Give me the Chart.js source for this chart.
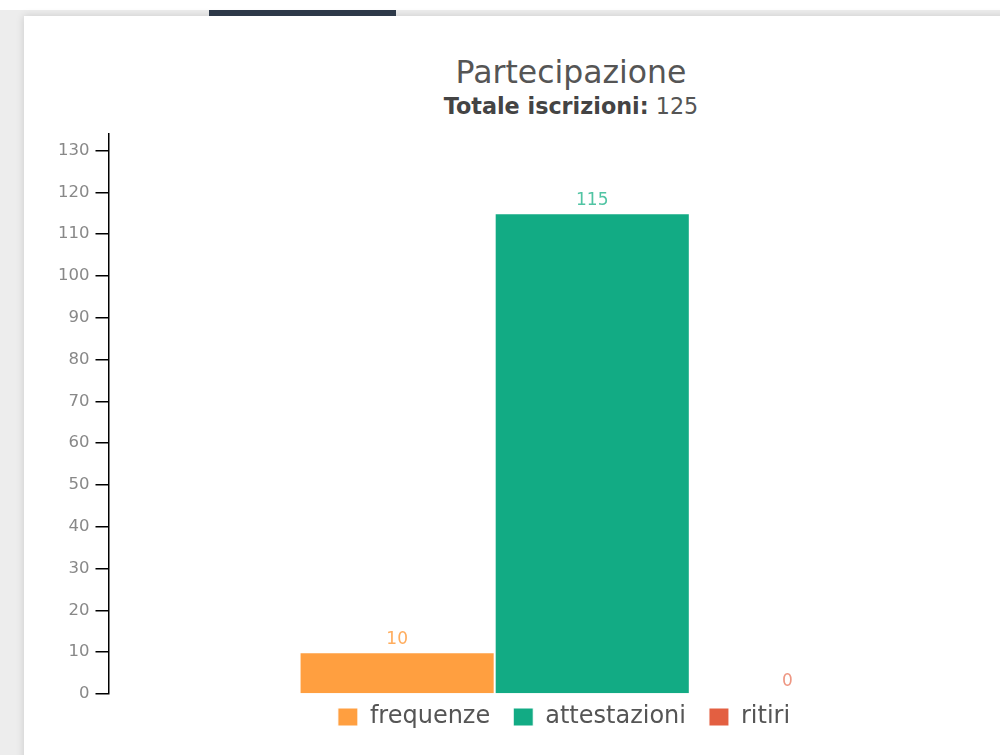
<!DOCTYPE html>
<html>
<head>
<meta charset="utf-8">
<script src="https://cdn.jsdelivr.net/npm/chart.js@4/dist/chart.umd.min.js"></script>
<style>
  body { margin: 0; background: #fff; overflow: hidden; font-family: "DejaVu Sans", sans-serif; }
  .bg { position: absolute; top: 10px; left: 0; width: 1000px; height: 745px; background: #ededed; }
  .card { position: absolute; top: 16px; left: 24px; width: 1200px; height: 800px; background: #fff;
          box-shadow: 0 0 8px rgba(0,0,0,0.15); }
  .tab { position: absolute; top: 10px; left: 209px; width: 187px; height: 6px; background: #2d3949; }
  .titolo { position: absolute; left: 42px; width: 1058px; text-align: center; }
  #t1 { top: 57px; font-size: 31.5px; line-height: 31.5px; color: #555; }
  #t2 { top: 95px; font-size: 22.3px; line-height: 22.3px; color: #555; }
  #t2 b { color: #444; }
  #wrap { position: absolute; left: 42px; top: 118px; width: 1054px; height: 633px; }
</style>
</head>
<body>
<div class="bg"></div>
<div class="card"></div>
<div class="tab"></div>
<div class="titolo" id="t1">Partecipazione</div>
<div class="titolo" id="t2"><b>Totale iscrizioni:</b> 125</div>
<div id="wrap"><canvas id="myChart"></canvas></div>
<script>
// dati del grafico
var categorie = ['Partecipazione'];
var serie = ['frequenze', 'attestazioni', 'ritiri'];
var valori = [10, 115, 0];
var tickY = [0, 10, 20, 30, 40, 50, 60, 70, 80, 90, 100, 110, 120, 130];

var coloriBarre = ['#ff9f40', '#12ab84', '#e35f41'];
var coloriEtichette = ['#ffad5e', '#50c4a3', '#ee9783'];

// etichette dei valori sopra le barre
var etichetteValori = {
    id: 'etichetteValori',
    afterDatasetsDraw: function(chart) {
        var ctx = chart.ctx;
        ctx.save();
        ctx.font = '17px "DejaVu Sans"';
        ctx.textAlign = 'center';
        ctx.textBaseline = 'bottom';
        chart.data.datasets.forEach(function(ds, i) {
            var meta = chart.getDatasetMeta(i);
            meta.data.forEach(function(bar, j) {
                ctx.fillStyle = coloriEtichette[i];
                ctx.fillText(ds.data[j], bar.x, bar.y - 4);
            });
        });
        ctx.restore();
    }
};

// avvicina la legenda all'asse
var legendaSu = {
    id: 'legendaSu',
    afterLayout: function(chart) {
        if (chart.legend) {
            chart.legend.top -= 12;
            chart.legend.bottom -= 12;
        }
    }
};

var datasets = serie.map(function(nome, i) {
    return {
        label: nome,
        data: [valori[i]],
        backgroundColor: coloriBarre[i],
        borderColor: '#ffffff',
        borderWidth: 1,
        barPercentage: 1,
        categoryPercentage: 0.605
    };
});

var ctx = document.getElementById('myChart').getContext('2d');
var myChart = new Chart(ctx, {
    type: 'bar',
    data: { labels: categorie, datasets: datasets },
    options: {
        responsive: true,
        maintainAspectRatio: false,
        animation: false,
        layout: { padding: { top: 0, left: 10, right: 20, bottom: 0 } },
        plugins: {
            legend: {
                position: 'bottom',
                labels: {
                    boxWidth: 20,
                    boxHeight: 18,
                    padding: 23,
                    color: '#555',
                    font: { family: 'DejaVu Sans', size: 24 }
                }
            },
            tooltip: { enabled: false }
        },
        scales: {
            x: { display: false },
            y: {
                min: 0,
                max: 134,
                afterBuildTicks: function(scale) {
                    scale.ticks = tickY.map(function(v) { return { value: v }; });
                },
                border: { color: '#000', width: 1.5 },
                grid: { drawOnChartArea: false, tickLength: 13, color: '#000', lineWidth: 1.5 },
                ticks: { padding: 6, color: '#888', font: { family: 'DejaVu Sans', size: 16.5 } }
            }
        }
    },
    plugins: [etichetteValori, legendaSu]
});
</script>
</body>
</html>
